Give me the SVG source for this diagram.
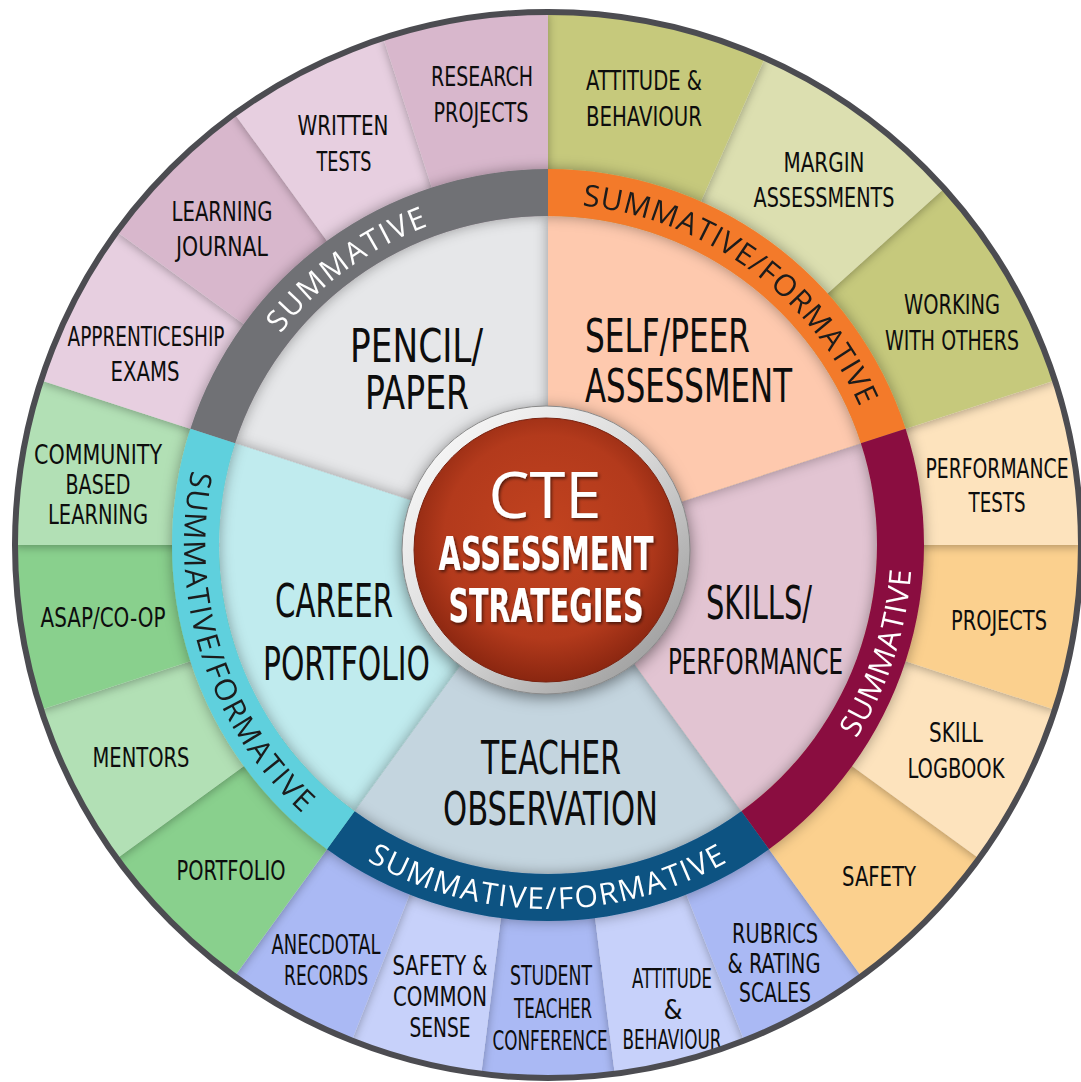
<svg xmlns="http://www.w3.org/2000/svg" width="1081" height="1082" viewBox="0 0 1081 1082">
<defs>
<style>
.o{font-family:"Liberation Sans Narrow","DejaVu Sans Condensed","Liberation Sans",sans-serif;font-size:27px;fill:#0d0d0d;text-anchor:middle}
.c{font-family:"Liberation Sans Narrow","DejaVu Sans Condensed","Liberation Sans",sans-serif;font-size:46px;fill:#0d0d0d;text-anchor:middle}
.b{font-family:"Open Sans","Liberation Sans",sans-serif;font-size:30px;text-anchor:middle}
.ct{font-family:"Liberation Sans Narrow","DejaVu Sans Condensed","Liberation Sans",sans-serif;font-size:46px;font-weight:bold;fill:#fff;text-anchor:middle}
.w{fill:#fff}.k{fill:#1a1a1a}
.m1{fill:#d8b7cc}.m2{fill:#e7cfe0}
.g1{fill:#c6c97c}.g2{fill:#dcdfb0}
.y1{fill:#fbd08e}.y2{fill:#fde3bd}
.p1{fill:#aab9f4}.p2{fill:#c7d1fa}
.v1{fill:#89d08d}.v2{fill:#b2e0b5}
.seg{filter:url(#so);clip-path:url(#clipO)}
.inn{filter:url(#si)}
</style>
<filter id="so" x="-20%" y="-20%" width="140%" height="140%"><feDropShadow dx="0" dy="2" stdDeviation="5" flood-color="#000" flood-opacity="0.3"/></filter>
<filter id="si" x="-20%" y="-20%" width="140%" height="140%"><feDropShadow dx="0" dy="0" stdDeviation="7" flood-color="#000" flood-opacity="0.35"/></filter>
<filter id="sc" x="-30%" y="-30%" width="160%" height="160%"><feDropShadow dx="0" dy="3" stdDeviation="8" flood-color="#000" flood-opacity="0.5"/></filter>
<filter id="st" x="-20%" y="-40%" width="140%" height="180%"><feDropShadow dx="1.5" dy="2" stdDeviation="1.5" flood-color="#000" flood-opacity="0.55"/></filter>
<clipPath id="clipO" clipPathUnits="userSpaceOnUse"><circle cx="548" cy="545" r="534"/></clipPath>
<linearGradient id="silver" x1="0" y1="0" x2="1" y2="1">
<stop offset="0" stop-color="#ffffff"/><stop offset="0.5" stop-color="#d9d9d9"/><stop offset="1" stop-color="#8e8e8e"/>
</linearGradient>
<radialGradient id="red" cx="0.5" cy="0.45" r="0.55">
<stop offset="0" stop-color="#c2431f"/><stop offset="0.7" stop-color="#b33a1c"/><stop offset="1" stop-color="#8a2610"/>
</radialGradient>
<path id="arcGray" d="M223.7,439.6A341,341 0 0 1 548,204"/>
<path id="arcOrange" d="M548,204A341,341 0 0 1 872.3,439.6"/>
<path id="arcMaroon" d="M761.96,839.48A364,364 0 0 0 894.19,432.52"/>
<path id="arcBlue" d="M334.04,839.48A364,364 0 0 0 761.96,839.48"/>
<path id="arcCyan" d="M201.81,432.52A364,364 0 0 0 334.04,839.48"/>
</defs>

<rect width="1081" height="1082" fill="#ffffff"/>

<g id="outer-ring">
<g id="student-teacher-conference"><path class="p1 seg" d="M548,545L614.9,1074.8A534,534 0 0 1 481.1,1074.8Z"/>
<text class="o" x="551" y="985" textLength="82" lengthAdjust="spacingAndGlyphs">STUDENT</text>
<text class="o" x="553" y="1018" textLength="78" lengthAdjust="spacingAndGlyphs">TEACHER</text>
<text class="o" x="550" y="1050" textLength="115" lengthAdjust="spacingAndGlyphs">CONFERENCE</text></g>
<g id="attitude-behaviour-2"><path class="p2 seg" d="M548,545L744.6,1041.5A534,534 0 0 1 614.9,1074.8Z"/>
<text class="o" x="672" y="988" textLength="80" lengthAdjust="spacingAndGlyphs">ATTITUDE</text>
<text class="o" x="673" y="1019">&amp;</text>
<text class="o" x="672" y="1049" textLength="99" lengthAdjust="spacingAndGlyphs">BEHAVIOUR</text></g>
<g id="safety-common-sense"><path class="p2 seg" d="M548,545L481.1,1074.8A534,534 0 0 1 351.4,1041.5Z"/>
<text class="o" x="440" y="975" textLength="95" lengthAdjust="spacingAndGlyphs">SAFETY &amp;</text>
<text class="o" x="440" y="1006" textLength="94" lengthAdjust="spacingAndGlyphs">COMMON</text>
<text class="o" x="440" y="1037" textLength="61" lengthAdjust="spacingAndGlyphs">SENSE</text></g>
<g id="rubrics-rating-scales"><path class="p1 seg" d="M548,545L861.9,977A534,534 0 0 1 744.6,1041.5Z"/>
<text class="o" x="775" y="943" textLength="86" lengthAdjust="spacingAndGlyphs">RUBRICS</text>
<text class="o" x="774" y="973" textLength="93" lengthAdjust="spacingAndGlyphs">&amp; RATING</text>
<text class="o" x="775" y="1002" textLength="72" lengthAdjust="spacingAndGlyphs">SCALES</text></g>
<g id="anecdotal-records"><path class="p1 seg" d="M548,545L351.4,1041.5A534,534 0 0 1 234.1,977Z"/>
<text class="o" x="326" y="954" textLength="109" lengthAdjust="spacingAndGlyphs">ANECDOTAL</text>
<text class="o" x="326" y="985" textLength="84" lengthAdjust="spacingAndGlyphs">RECORDS</text></g>
<g id="safety"><path class="y1 seg" d="M548,545L980,858.9A534,534 0 0 1 861.9,977Z"/>
<text class="o" x="879" y="886" textLength="74" lengthAdjust="spacingAndGlyphs">SAFETY</text></g>
<g id="portfolio"><path class="v1 seg" d="M548,545L234.1,977A534,534 0 0 1 116,858.9Z"/>
<text class="o" x="231" y="880" textLength="109" lengthAdjust="spacingAndGlyphs">PORTFOLIO</text></g>
<g id="skill-logbook"><path class="y2 seg" d="M548,545L1055.9,710A534,534 0 0 1 980,858.9Z"/>
<text class="o" x="956" y="742" textLength="54" lengthAdjust="spacingAndGlyphs">SKILL</text>
<text class="o" x="956" y="778" textLength="97" lengthAdjust="spacingAndGlyphs">LOGBOOK</text></g>
<g id="mentors"><path class="v2 seg" d="M548,545L116,858.9A534,534 0 0 1 40.1,710Z"/>
<text class="o" x="141" y="767" textLength="97" lengthAdjust="spacingAndGlyphs">MENTORS</text></g>
<g id="projects"><path class="y1 seg" d="M548,545L1082,545A534,534 0 0 1 1055.9,710Z"/>
<text class="o" x="999" y="630" textLength="96" lengthAdjust="spacingAndGlyphs">PROJECTS</text></g>
<g id="asap-co-op"><path class="v1 seg" d="M548,545L40.1,710A534,534 0 0 1 14,545Z"/>
<text class="o" x="103" y="627" textLength="125" lengthAdjust="spacingAndGlyphs">ASAP/CO-OP</text></g>
<g id="performance-tests"><path class="y2 seg" d="M548,545L1055.9,380A534,534 0 0 1 1082,545Z"/>
<text class="o" x="997" y="478" textLength="143" lengthAdjust="spacingAndGlyphs">PERFORMANCE</text>
<text class="o" x="997" y="512" textLength="57" lengthAdjust="spacingAndGlyphs">TESTS</text></g>
<g id="community-based-learning"><path class="v2 seg" d="M548,545L14,545A534,534 0 0 1 40.1,380Z"/>
<text class="o" x="98" y="464" textLength="128" lengthAdjust="spacingAndGlyphs">COMMUNITY</text>
<text class="o" x="98" y="494" textLength="65" lengthAdjust="spacingAndGlyphs">BASED</text>
<text class="o" x="98" y="524" textLength="100" lengthAdjust="spacingAndGlyphs">LEARNING</text></g>
<g id="apprenticeship-exams"><path class="m2 seg" d="M548,545L40.1,380A534,534 0 0 1 116,231.1Z"/>
<text class="o" x="146" y="346" textLength="157" lengthAdjust="spacingAndGlyphs">APPRENTICESHIP</text>
<text class="o" x="145" y="381" textLength="69" lengthAdjust="spacingAndGlyphs">EXAMS</text></g>
<g id="working-with-others"><path class="g1 seg" d="M548,545L944.8,187.7A534,534 0 0 1 1055.9,380Z"/>
<text class="o" x="952" y="314" textLength="96" lengthAdjust="spacingAndGlyphs">WORKING</text>
<text class="o" x="952" y="350" textLength="134" lengthAdjust="spacingAndGlyphs">WITH OTHERS</text></g>
<g id="learning-journal"><path class="m1 seg" d="M548,545L116,231.1A534,534 0 0 1 234.1,113Z"/>
<text class="o" x="222" y="221" textLength="101" lengthAdjust="spacingAndGlyphs">LEARNING</text>
<text class="o" x="222" y="256" textLength="92" lengthAdjust="spacingAndGlyphs">JOURNAL</text></g>
<g id="margin-assessments"><path class="g2 seg" d="M548,545L765.2,57.2A534,534 0 0 1 944.8,187.7Z"/>
<text class="o" x="824" y="172" textLength="81" lengthAdjust="spacingAndGlyphs">MARGIN</text>
<text class="o" x="824" y="207" textLength="141" lengthAdjust="spacingAndGlyphs">ASSESSMENTS</text></g>
<g id="written-tests"><path class="m2 seg" d="M548,545L234.1,113A534,534 0 0 1 383,37.1Z"/>
<text class="o" x="343" y="135" textLength="91" lengthAdjust="spacingAndGlyphs">WRITTEN</text>
<text class="o" x="344" y="171" textLength="55" lengthAdjust="spacingAndGlyphs">TESTS</text></g>
<g id="attitude-behaviour"><path class="g1 seg" d="M548,545L548,11A534,534 0 0 1 765.2,57.2Z"/>
<text class="o" x="644" y="90" textLength="116" lengthAdjust="spacingAndGlyphs">ATTITUDE &amp;</text>
<text class="o" x="644" y="126" textLength="116" lengthAdjust="spacingAndGlyphs">BEHAVIOUR</text></g>
<g id="research-projects"><path class="m1 seg" d="M548,545L383,37.1A534,534 0 0 1 548,11Z"/>
<text class="o" x="482" y="86" textLength="102" lengthAdjust="spacingAndGlyphs">RESEARCH</text>
<text class="o" x="481" y="122" textLength="95" lengthAdjust="spacingAndGlyphs">PROJECTS</text></g>
</g>
<circle id="outer-border" cx="548" cy="545" r="533" fill="none" stroke="#4c4c51" stroke-width="6"/>

<g id="categories">
<g id="pencil-paper"><path class="inn" fill="#e6e7e9" d="M548,545L235.1,443.3A329,329 0 0 1 548,216Z"/>
<text class="c" x="416.5" y="362" textLength="133" lengthAdjust="spacingAndGlyphs">PENCIL/</text>
<text class="c" x="417" y="409" textLength="104" lengthAdjust="spacingAndGlyphs">PAPER</text></g>
<g id="career-portfolio"><path class="inn" fill="#c0ebee" d="M548,545L354.6,811.2A329,329 0 0 1 235.1,443.3Z"/>
<text class="c" x="334" y="617" textLength="118" lengthAdjust="spacingAndGlyphs">CAREER</text>
<text class="c" x="346.5" y="680" textLength="167" lengthAdjust="spacingAndGlyphs">PORTFOLIO</text></g>
<g id="teacher-observation"><path class="inn" fill="#c4d5df" d="M548,545L741.4,811.2A329,329 0 0 1 354.6,811.2Z"/>
<text class="c" x="551" y="774" textLength="140" lengthAdjust="spacingAndGlyphs">TEACHER</text>
<text class="c" x="550.5" y="825" textLength="215" lengthAdjust="spacingAndGlyphs">OBSERVATION</text></g>
<g id="skills-performance"><path class="inn" fill="#e2c4d2" d="M548,545L860.9,443.3A329,329 0 0 1 741.4,811.2Z"/>
<text class="c" x="759" y="619" textLength="106" lengthAdjust="spacingAndGlyphs">SKILLS/</text>
<text class="c" x="755.5" y="674" style="font-size:35px" textLength="175" lengthAdjust="spacingAndGlyphs">PERFORMANCE</text></g>
<g id="self-peer-assessment"><path class="inn" fill="#fec9ae" d="M548,545L548,216A329,329 0 0 1 860.9,443.3Z"/>
<text class="c" x="585" y="352" style="text-anchor:start" textLength="165" lengthAdjust="spacingAndGlyphs">SELF/PEER</text>
<text class="c" x="585" y="402" style="text-anchor:start" textLength="207" lengthAdjust="spacingAndGlyphs">ASSESSMENT</text></g>
</g>

<g id="bands" filter="url(#si)">
<g id="band-pencil"><path fill="#707175" d="M190.4,428.8A376,376 0 0 1 548,169L548,216A329,329 0 0 0 235.1,443.3Z"/>
<text class="b w" letter-spacing="1.8"><textPath href="#arcGray" startOffset="50%">SUMMATIVE</textPath></text></g>
<g id="band-self"><path fill="#f37a2a" d="M548,169A376,376 0 0 1 905.6,428.8L860.9,443.3A329,329 0 0 0 548,216Z"/>
<text class="b k" letter-spacing="0.8"><textPath href="#arcOrange" startOffset="50%">SUMMATIVE/FORMATIVE</textPath></text></g>
<g id="band-skills"><path fill="#8a0f3f" d="M905.6,428.8A376,376 0 0 1 769,849.2L741.4,811.2A329,329 0 0 0 860.9,443.3Z"/>
<text class="b w" letter-spacing="1"><textPath href="#arcMaroon" startOffset="50%">SUMMATIVE</textPath></text></g>
<g id="band-teacher"><path fill="#0b5282" d="M769,849.2A376,376 0 0 1 327,849.2L354.6,811.2A329,329 0 0 0 741.4,811.2Z"/>
<text class="b w" letter-spacing="1.8"><textPath href="#arcBlue" startOffset="50%">SUMMATIVE/FORMATIVE</textPath></text></g>
<g id="band-career"><path fill="#5fd0dd" d="M327,849.2A376,376 0 0 1 190.4,428.8L235.1,443.3A329,329 0 0 0 354.6,811.2Z"/>
<text class="b k" letter-spacing="1.8"><textPath href="#arcCyan" startOffset="50%">SUMMATIVE/FORMATIVE</textPath></text></g>
</g>

<g id="center">
<circle cx="546" cy="550" r="144" fill="url(#silver)" filter="url(#sc)"/>
<circle cx="546" cy="550" r="144" fill="none" stroke="#8a8a8a" stroke-width="1"/>
<circle cx="546" cy="550" r="132" fill="url(#red)" stroke="#7a2210" stroke-width="1"/>
<g filter="url(#st)">
<text x="545" y="518" style="font-family:'Open Sans','Liberation Sans',sans-serif;font-size:64px;fill:#fff;text-anchor:middle" textLength="113" lengthAdjust="spacingAndGlyphs">CTE</text>
<text class="ct" x="546" y="570" textLength="215" lengthAdjust="spacingAndGlyphs">ASSESSMENT</text>
<text class="ct" x="546" y="622" textLength="195" lengthAdjust="spacingAndGlyphs">STRATEGIES</text>
</g>
</g>
</svg>
